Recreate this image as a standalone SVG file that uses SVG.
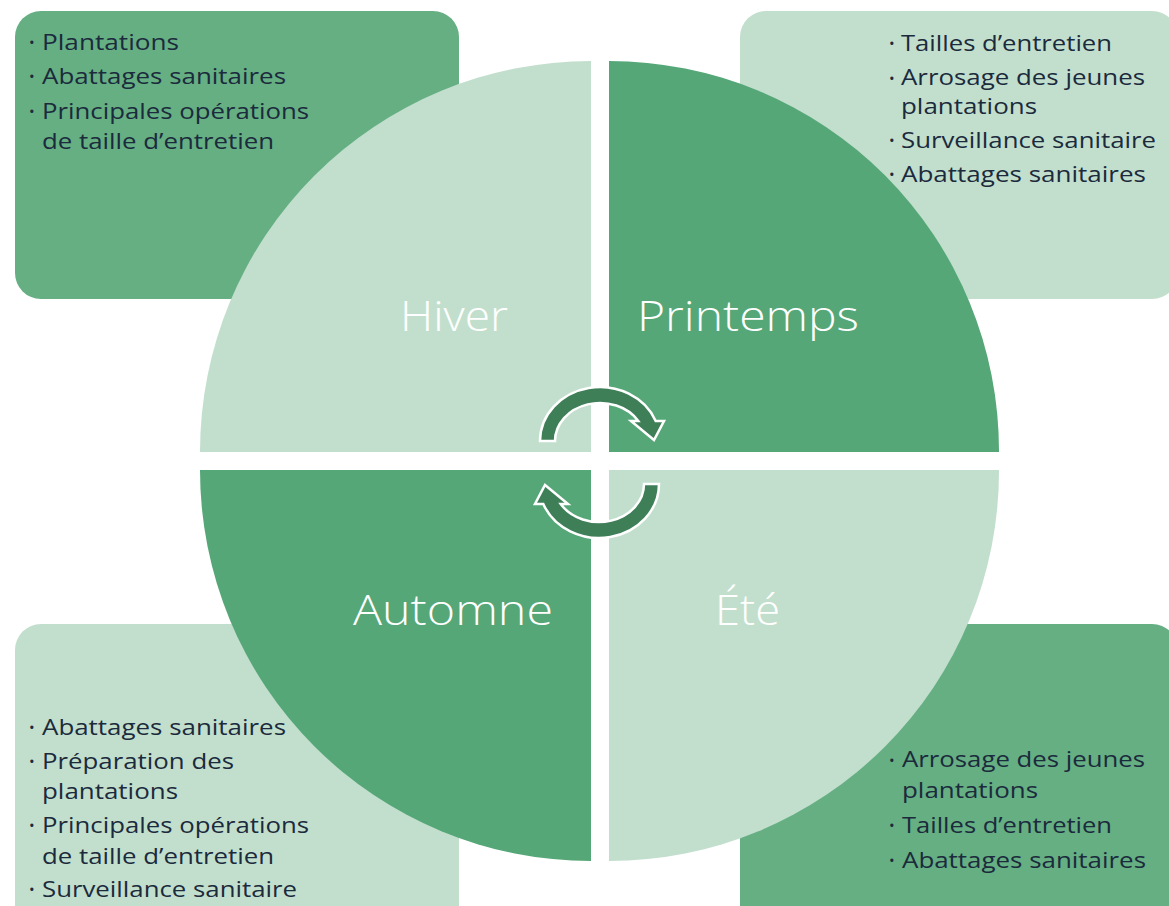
<svg xmlns="http://www.w3.org/2000/svg" width="1169" height="906" viewBox="0 0 1169 906">
<style>
.box-mid{fill:#65AF83}
.box-light{fill:#C2DFCD}
.q-light{fill:#C2DFCD}
.q-dark{fill:#55A777}
.item{font-family:"Open Sans","Liberation Sans",sans-serif;font-size:22px;fill:#1B2A3C}
.bul{font-family:"Open Sans","Liberation Sans",sans-serif;font-size:15px;fill:#1B2A3C}
.season{font-family:"Open Sans","Liberation Sans",sans-serif;font-size:42px;fill:#FFFFFF;font-weight:300}
.arrow{fill:#3E7F58;stroke:#FFFFFF;stroke-width:2.5;stroke-linejoin:miter}
</style>
<rect width="1169" height="906" fill="#FFFFFF"/>

<g id="box-hiver">
<rect class="box-mid" x="15" y="11" width="444" height="288" rx="26"/>
</g>
<g id="box-printemps">
<rect class="box-light" x="740" y="11" width="438" height="288" rx="26"/>
</g>
<g id="box-automne">
<rect class="box-light" x="15" y="624" width="444" height="310" rx="26"/>
</g>
<g id="box-ete">
<rect class="box-mid" x="740" y="624" width="438" height="310" rx="26"/>
</g>

<g id="quadrant-hiver">
<path class="q-light" d="M591 452 L200 452 A391 391 0 0 1 591 61 Z"/>
<text class="season" x="400" y="331" textLength="108" lengthAdjust="spacingAndGlyphs">Hiver</text>
</g>
<g id="quadrant-printemps">
<path class="q-dark" d="M609 452 L609 61 A390 390 0 0 1 999 452 Z"/>
<text class="season" x="637" y="331" textLength="222" lengthAdjust="spacingAndGlyphs">Printemps</text>
</g>
<g id="quadrant-automne">
<path class="q-dark" d="M591 470 L591 861 A391 391 0 0 1 200 470 Z"/>
<text class="season" x="353" y="625" textLength="200" lengthAdjust="spacingAndGlyphs">Automne</text>
</g>
<g id="quadrant-ete">
<path class="q-light" d="M609 470 L999 470 A390 390 0 0 1 609 861 Z"/>
<text class="season" x="715" y="625" textLength="65" lengthAdjust="spacingAndGlyphs">Été</text>
</g>

<g id="connectors">
<path class="arrow" d="M540 441 A60 54 0 0 1 655.7 421 L664 421 L654 440 L631 421 L638.3 421 A45 38 0 0 0 555 441 Z"/>
<path class="arrow" transform="rotate(180 599.5 462.5)" d="M540 441 A60 54 0 0 1 655.7 421 L664 421 L654 440 L631 421 L638.3 421 A45 38 0 0 0 555 441 Z"/>
</g>

<g id="text-hiver">
<text class="bul" x="29" y="48">•</text>
<text class="item" x="42" y="50" textLength="137" lengthAdjust="spacingAndGlyphs">Plantations</text>
<text class="bul" x="29" y="82">•</text>
<text class="item" x="42" y="84" textLength="244" lengthAdjust="spacingAndGlyphs">Abattages sanitaires</text>
<text class="bul" x="29" y="117">•</text>
<text class="item" x="42" y="119" textLength="267" lengthAdjust="spacingAndGlyphs">Principales opérations</text>
<text class="item" x="42" y="149" textLength="232" lengthAdjust="spacingAndGlyphs">de taille d’entretien</text>
</g>

<g id="text-printemps">
<text class="bul" x="889" y="49">•</text>
<text class="item" x="901" y="51" textLength="211" lengthAdjust="spacingAndGlyphs">Tailles d’entretien</text>
<text class="bul" x="889" y="84">•</text>
<text class="item" x="901" y="85" textLength="244" lengthAdjust="spacingAndGlyphs">Arrosage des jeunes</text>
<text class="item" x="901" y="114" textLength="136" lengthAdjust="spacingAndGlyphs">plantations</text>
<text class="bul" x="889" y="146">•</text>
<text class="item" x="901" y="148" textLength="255" lengthAdjust="spacingAndGlyphs">Surveillance sanitaire</text>
<text class="bul" x="889" y="180">•</text>
<text class="item" x="901" y="182" textLength="245" lengthAdjust="spacingAndGlyphs">Abattages sanitaires</text>
</g>

<g id="text-automne">
<text class="bul" x="29" y="733">•</text>
<text class="item" x="42" y="735" textLength="244" lengthAdjust="spacingAndGlyphs">Abattages sanitaires</text>
<text class="bul" x="29" y="767">•</text>
<text class="item" x="42" y="769" textLength="192" lengthAdjust="spacingAndGlyphs">Préparation des</text>
<text class="item" x="42" y="799" textLength="136" lengthAdjust="spacingAndGlyphs">plantations</text>
<text class="bul" x="29" y="831">•</text>
<text class="item" x="42" y="833" textLength="267" lengthAdjust="spacingAndGlyphs">Principales opérations</text>
<text class="item" x="42" y="864" textLength="232" lengthAdjust="spacingAndGlyphs">de taille d’entretien</text>
<text class="bul" x="29" y="895">•</text>
<text class="item" x="42" y="897" textLength="255" lengthAdjust="spacingAndGlyphs">Surveillance sanitaire</text>
</g>

<g id="text-ete">
<text class="bul" x="889" y="766">•</text>
<text class="item" x="902" y="767" textLength="243" lengthAdjust="spacingAndGlyphs">Arrosage des jeunes</text>
<text class="item" x="902" y="798" textLength="136" lengthAdjust="spacingAndGlyphs">plantations</text>
<text class="bul" x="889" y="831">•</text>
<text class="item" x="902" y="833" textLength="210" lengthAdjust="spacingAndGlyphs">Tailles d’entretien</text>
<text class="bul" x="889" y="866">•</text>
<text class="item" x="902" y="868" textLength="244" lengthAdjust="spacingAndGlyphs">Abattages sanitaires</text>
</g>
</svg>
